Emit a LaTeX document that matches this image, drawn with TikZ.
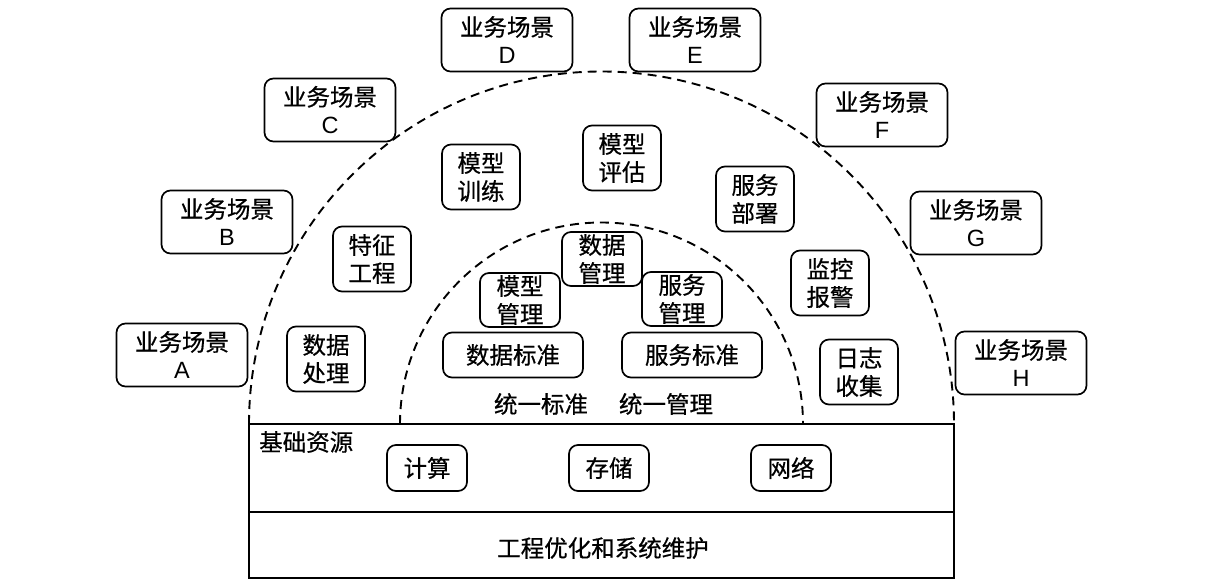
\documentclass[tikz,border=0pt]{standalone}
\usepackage{fontspec}
\setmainfont[FakeBold=0.6]{Noto Sans CJK SC}
\newfontfamily\lat{Liberation Sans}
\begin{document}
\begin{tikzpicture}[x=1pt,y=1pt,
  every node/.style={font=\fontsize{23.5}{28}\selectfont, inner sep=0pt, align=center},
  bbox/.style={draw, line width=1.7pt, rounded corners=9pt},
  scene/.style={bbox, minimum width=131pt, minimum height=63pt},
  task/.style={bbox, minimum width=78pt, minimum height=65pt},
  mgmt/.style={bbox, minimum width=80pt, minimum height=54pt},
  stdbox/.style={bbox, minimum width=140pt, minimum height=45pt},
  res/.style={bbox, minimum width=80pt, minimum height=46pt},
  arcline/.style={line width=1.9pt, dash pattern=on 9pt off 6pt}
]
\useasboundingbox (0,0) rectangle (1232,584);
% bottom layers
\draw[line width=1.7pt] (249,6) rectangle (954,160);
\draw[line width=1.7pt] (249,72) -- (954,72);
% arcs
\draw[arcline] (249,160) arc[start angle=180, end angle=0, radius=352.5];
\draw[arcline] (400,160) arc[start angle=180, end angle=0, radius=201.5];
% scenes
\node[scene] (sA) at (182,229) {业务场景\\{\lat A}};
\node[scene] (sB) at (227,362) {业务场景\\{\lat B}};
\node[scene] (sC) at (330,474) {业务场景\\{\lat C}};
\node[scene] (sD) at (507,544) {业务场景\\{\lat D}};
\node[scene] (sE) at (695,544) {业务场景\\{\lat E}};
\node[scene] (sF) at (882,469) {业务场景\\{\lat F}};
\node[scene] (sG) at (976,361) {业务场景\\{\lat G}};
\node[scene] (sH) at (1021,221) {业务场景\\{\lat H}};
% tasks
\node[task] (t1) at (326,225) {数据\\处理};
\node[task] (t2) at (372,325) {特征\\工程};
\node[task] (t3) at (481,407) {模型\\训练};
\node[task] (t4) at (622,426) {模型\\评估};
\node[task] (t5) at (755,385) {服务\\部署};
\node[task] (t6) at (830,301) {监控\\报警};
\node[task] (t7) at (859,212) {日志\\收集};
% management
\node[mgmt] (m1) at (602,325) {数据\\管理};
\node[mgmt] (m2) at (520,284) {模型\\管理};
\node[mgmt] (m3) at (682,285) {服务\\管理};
\node[stdbox] (d1) at (513,229) {数据标准};
\node[stdbox] (d2) at (692,229) {服务标准};
\node (u1) at (541,180) {统一标准};
\node (u2) at (666,180) {统一管理};
% resources
\node[anchor=west] (jc) at (259,142) {基础资源};
\node[res] (r1) at (427,116) {计算};
\node[res] (r2) at (609,116) {存储};
\node[res] (r3) at (791,116) {网络};
\node (gc) at (603,36) {工程优化和系统维护};
\end{tikzpicture}
\end{document}
